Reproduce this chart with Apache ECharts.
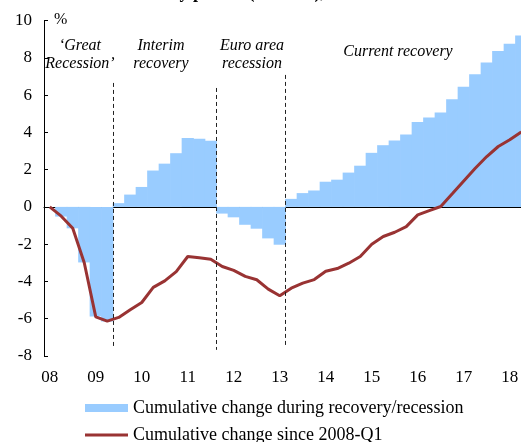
<!DOCTYPE html>
<html>
<head>
<meta charset="utf-8">
<script src="https://cdn.jsdelivr.net/npm/echarts@6/dist/echarts.min.js"></script>
<style>
  html, body { margin: 0; padding: 0; background: #fff; }
  #chart { width: 521px; height: 442px; }
</style>
</head>
<body>
<div id="chart"></div>
<script>
// quarters 2008-Q1 .. 2018-Q2
var years = ['08', '09', '10', '11', '12', '13', '14', '15', '16', '17', '18']
var quarters = []
years.forEach(function (y) {
  for (var q = 1; q <= 4; q++) quarters.push(y + '-Q' + q)
})
quarters = quarters.slice(0, 42)

// cumulative change within each recovery / recession phase
var phaseChange = [
  0, -0.52, -1.15, -2.98, -5.88, -6.15,
  0.2, 0.66, 1.07, 1.95, 2.32, 2.88, 3.7, 3.65, 3.55,
  -0.36, -0.56, -0.96, -1.17, -1.69, -2.03,
  0.43, 0.74, 0.88, 1.35, 1.46, 1.84, 2.21, 2.9, 3.31, 3.56, 3.88, 4.55,
  4.79, 5.07, 5.78, 6.44, 7.12, 7.74, 8.37, 8.75, 9.19
]
// cumulative change since 2008-Q1
var sinceStart = [
  0, -0.5, -1.15, -3.0, -5.9, -6.13,
  -5.93, -5.52, -5.13, -4.32, -3.97, -3.47, -2.66, -2.73, -2.81,
  -3.2, -3.41, -3.73, -3.91, -4.41, -4.77,
  -4.36, -4.09, -3.9, -3.45, -3.31, -3.02, -2.66, -2.0, -1.59, -1.36, -1.06, -0.43,
  -0.2, 0.02, 0.7, 1.39, 2.07, 2.7, 3.24, 3.6, 4.02
]
// phase boundaries (quarter index) with the extent of the dashed line
var phaseStarts = [6, 15, 21]
var dashTop = [6.65, 6.38, 7.08]
var dashBottom = [-7.5, -7.67, -7.56]
var yTicks = [-8, 10, 2]

var serif = '"Liberation Serif", "Times New Roman", serif'
var barName = 'Cumulative change during recovery/recession'
var lineName = 'Cumulative change since 2008-Q1'

var chart = echarts.init(document.getElementById('chart'))

var dashLines = phaseStarts.map(function (x, i) {
  return [{ coord: [x, dashTop[i]] }, { coord: [x, dashBottom[i]] }]
})

// italic caption helper
function caption (text, x, y) {
  return {
    type: 'text', x: x, y: y,
    style: { text: text, font: 'italic 16px ' + serif, fill: '#000', align: 'center', verticalAlign: 'middle' }
  }
}

chart.setOption({
  animation: false,
  textStyle: { fontFamily: serif },
  // plot runs a little past the right edge of the picture
  grid: { left: 44, right: -6, top: 20.5, bottom: 86, outerBoundsMode: 'none', containLabel: false },
  legend: [
    {
      data: [{ name: barName, icon: 'rect' }],
      left: 85, top: 399, padding: 0, itemWidth: 43, itemHeight: 8,
      textStyle: { fontFamily: serif, fontSize: 18, color: '#000' }
    },
    {
      data: [{ name: lineName, icon: 'rect' }],
      left: 85, top: 426, padding: 0, itemWidth: 43, itemHeight: 3,
      textStyle: { fontFamily: serif, fontSize: 18, color: '#000' }
    }
  ],
  xAxis: [
    { // zero line with year ticks
      type: 'category',
      data: quarters,
      position: 'bottom',
      axisLine: { onZero: true, lineStyle: { color: '#000', width: 1 } },
      axisTick: {
        inside: true, length: 5,
        interval: function (i) { return i % 4 === 0 },
        lineStyle: { color: '#000' }
      },
      axisLabel: { show: false },
      splitLine: { show: false }
    },
    { // year labels at the bottom
      type: 'category',
      data: quarters,
      position: 'bottom',
      axisLine: { show: false, onZero: false },
      axisTick: { show: false },
      axisLabel: {
        interval: function (i) { return i % 4 === 0 },
        formatter: function (v) { return v.slice(0, 2) },
        fontFamily: serif, fontSize: 17, color: '#000', margin: 13
      },
      splitLine: { show: false }
    },
    { type: 'value', min: 0, max: 42, show: false }
  ],
  yAxis: {
    type: 'value',
    min: yTicks[0], max: yTicks[1], interval: yTicks[2],
    axisLine: { show: true, lineStyle: { color: '#000' } },
    axisTick: { show: true, inside: true, length: 4, lineStyle: { color: '#000' } },
    axisLabel: { fontFamily: serif, fontSize: 17, color: '#000', margin: 12 },
    splitLine: { show: false }
  },
  series: [
    {
      name: barName,
      type: 'bar',
      data: phaseChange,
      // slightly wider than the band so neighbouring bars leave no hairline gap
      barWidth: '106%',
      itemStyle: { color: '#99ccff' },
      z: 1
    },
    {
      name: lineName,
      type: 'line',
      data: sinceStart,
      symbol: 'none',
      lineStyle: { color: '#993333', width: 3 },
      itemStyle: { color: '#993333' },
      z: 4
    },
    {
      type: 'line',
      xAxisIndex: 2,
      data: [],
      z: 3,
      markLine: {
        silent: true,
        symbol: 'none',
        label: { show: false },
        lineStyle: { color: '#222', width: 1, type: [4, 3] },
        data: dashLines
      }
    }
  ],
  graphic: [
    {
      type: 'text', x: 262, y: -7,
      style: { text: 'recovery phases (2008-18), euro area', font: 'bold 18px ' + serif, fill: '#000', align: 'center', verticalAlign: 'middle' }
    },
    { type: 'text', x: 54, y: 12, style: { text: '%', font: '16px ' + serif, fill: '#000' } },
    caption('\u2018Great', 80, 46),
    caption('Recession\u2019', 80, 64),
    caption('Interim', 161, 46),
    caption('recovery', 161, 64),
    caption('Euro area', 252, 46),
    caption('recession', 252, 64),
    caption('Current recovery', 398, 52)
  ]
})
</script>
</body>
</html>
